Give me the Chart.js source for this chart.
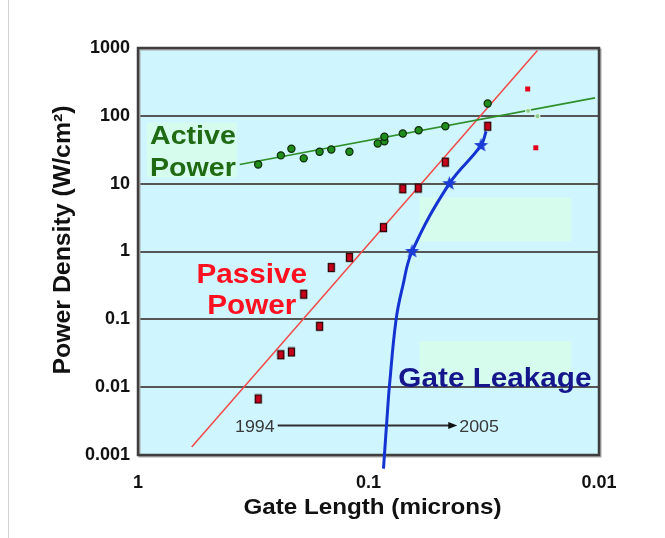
<!DOCTYPE html>
<html>
<head>
<meta charset="utf-8">
<script src="https://cdn.jsdelivr.net/npm/chart.js@4.4.1/dist/chart.umd.min.js"></script>
<style>
  html, body { margin: 0; padding: 0; background: #ffffff; }
  #wrap { width: 665px; height: 538px; position: relative; }
  canvas { display: block; }
</style>
</head>
<body>
<div id="wrap"><canvas id="chart" width="665" height="538" style="width:665px;height:538px"></canvas></div>
<script>
// ---- axis ticks ----
const xTickValues = [1, 0.1, 0.01];
const xTickLabels = ['1', '0.1', '0.01'];
const yTickValues = [0.001, 0.01, 0.1, 1, 10, 100, 1000];
const yTickLabels = ['0.001', '0.01', '0.1', '1', '10', '100', '1000'];

// ---- active power (gate length in microns, W/cm2) ----
const activeLength = [0.301, 0.240, 0.216, 0.191, 0.163, 0.145, 0.121, 0.0912, 0.0853, 0.0853, 0.0710, 0.0606, 0.0464, 0.0304];
const activePower  = [19.2, 26.1, 32.7, 23.6, 29.6, 31.9, 29.6, 39.1, 42.3, 49.1, 54.9, 61.4, 70.3, 151.7];
const activeFitLength = [0.362, 0.0104];
const activeFitPower  = [19.2, 184];

// ---- passive power ----
const passiveLength = [0.301, 0.240, 0.216, 0.191, 0.163, 0.145, 0.121, 0.0861, 0.0710, 0.0608, 0.0464, 0.0304];
const passivePower  = [0.0067, 0.030, 0.033, 0.235, 0.079, 0.58, 0.82, 2.25, 8.4, 8.6, 20.8, 70.3];
const passiveFitLength = [0.585, 0.0185];
const passiveFitPower  = [0.00131, 922];

// ---- projected points ----
const projActiveLength  = [0.0203, 0.0185];
const projActivePower   = [118.5, 98.7];
const projPassiveLength = [0.0204, 0.0188];
const projPassivePower  = [249, 33.8];

// ---- gate leakage ----
const leakageLength = [0.0861, 0.0825, 0.0811, 0.0759, 0.0710, 0.0647, 0.0446, 0.0325, 0.0309];
const leakagePower  = [0.00063, 0.005, 0.0106, 0.1, 0.31, 1, 10, 36.6, 59];
const leakageStarLength = [0.0647, 0.0446, 0.0325];
const leakageStarPower  = [1, 10, 36.6];

const pairs = (xs, ys) => xs.map((x, i) => ({ x: x, y: ys[i] }));

// ---- custom marker images ----
function makeStar(r, color) {
  const c = document.createElement('canvas');
  const s = Math.ceil(r * 2 + 2);
  c.width = s; c.height = s;
  const g = c.getContext('2d');
  g.translate(s / 2, s / 2);
  g.beginPath();
  for (let i = 0; i < 10; i++) {
    const rad = i % 2 === 0 ? r : r * 0.42;
    const a = -Math.PI / 2 + i * Math.PI / 5;
    g.lineTo(rad * Math.cos(a), rad * Math.sin(a));
  }
  g.closePath();
  g.fillStyle = color;
  g.fill();
  return c;
}
function makeBlock(w, h, fill, stroke) {
  const c = document.createElement('canvas');
  c.width = w + 2; c.height = h + 2;
  const g = c.getContext('2d');
  g.fillStyle = fill;
  g.fillRect(1, 1, w, h);
  if (stroke) {
    g.strokeStyle = stroke;
    g.lineWidth = 1.3;
    g.strokeRect(1.5, 1.5, w - 1, h - 1);
  }
  return c;
}
const starImg = makeStar(7.5, '#1a3bd6');
const blockImg = makeBlock(7, 9, '#c8001c', '#2a0505');
const smallBlockImg = makeBlock(5, 5, '#e4001c', null);

// ---- decorations and annotations (data coordinates) ----
const mintBoxes = [
  { x0: 0.914, x1: 0.373, y0: 79.7, y1: 12.4 },
  { x0: 0.0601, x1: 0.0132, y0: 6.29, y1: 1.417 },
  { x0: 0.0601, x1: 0.0132, y0: 0.048, y1: 0.01045 }
];
const seriesLabels = [
  { lines: ['Active', 'Power'], x: 0.887, y: [38.7, 12.9], align: 'left', color: '#1f6a12', size: 26 },
  { lines: ['Passive', 'Power'], x: 0.321, y: [0.338, 0.1197], align: 'center', color: '#ff1020', size: 27 },
  { lines: ['Gate Leakage'], x: 0.0742, y: [0.0102], align: 'left', color: '#16168c', size: 27 }
];
const yearSpan = { from: '1994', to: '2005', x0: 0.2477, x1: 0.0412, y: 0.00272 };

const FONT = '"Liberation Sans", Arial, Helvetica, sans-serif';

function stretchedText(ctx, text, x, y, font, color, align, sx, baseline) {
  ctx.save();
  ctx.translate(x, y);
  ctx.scale(sx, 1);
  ctx.font = font;
  ctx.fillStyle = color;
  ctx.textAlign = align;
  ctx.textBaseline = baseline || 'alphabetic';
  ctx.fillText(text, 0, 0);
  ctx.restore();
}

const decorPlugin = {
  id: 'decor',
  beforeDraw(chart) {
    const { ctx, chartArea: a, scales: { x, y } } = chart;
    ctx.save();
    ctx.fillStyle = '#ffffff';
    ctx.fillRect(0, 0, chart.width, chart.height);
    // page frame
    ctx.strokeStyle = '#d0d0d0';
    ctx.lineWidth = 1;
    ctx.beginPath();
    ctx.moveTo(8.5, 0); ctx.lineTo(8.5, chart.height);
    ctx.stroke();
    // plot background
    ctx.fillStyle = '#cff5fe';
    ctx.fillRect(a.left, a.top, a.right - a.left, a.bottom - a.top);
    ctx.fillStyle = '#d6fcee';
    mintBoxes.forEach(b => {
      const px0 = x.getPixelForValue(b.x0), px1 = x.getPixelForValue(b.x1);
      const py0 = y.getPixelForValue(b.y0), py1 = y.getPixelForValue(b.y1);
      ctx.fillRect(px0, py0, px1 - px0, py1 - py0);
    });
    ctx.restore();
  },
  beforeDatasetsDraw(chart) {
    const { ctx, chartArea: a, scales: { x, y } } = chart;
    ctx.save();
    // plot frame
    ctx.strokeStyle = '#a8a8a8';
    ctx.lineWidth = 2;
    ctx.strokeRect(a.left + 1.5, a.top + 1.5, a.right - a.left, a.bottom - a.top);
    ctx.strokeStyle = '#3e3e3e';
    ctx.lineWidth = 2.5;
    ctx.strokeRect(a.left, a.top, a.right - a.left, a.bottom - a.top);

    // series labels
    seriesLabels.forEach(l => {
      const px = x.getPixelForValue(l.x);
      l.lines.forEach((t, i) => {
        stretchedText(ctx, t, px, y.getPixelForValue(l.y[i]),
          'bold ' + l.size + 'px ' + FONT, l.color, l.align, 1.1);
      });
    });

    // 1994 -> 2005 arrow
    const ax0 = x.getPixelForValue(yearSpan.x0);
    const ax1 = x.getPixelForValue(yearSpan.x1);
    const ay = y.getPixelForValue(yearSpan.y);
    ctx.strokeStyle = '#2e2e2e';
    ctx.lineWidth = 2;
    ctx.beginPath();
    ctx.moveTo(ax0, ay); ctx.lineTo(ax1 - 6, ay);
    ctx.stroke();
    ctx.fillStyle = '#111111';
    ctx.beginPath();
    ctx.moveTo(ax1, ay); ctx.lineTo(ax1 - 9, ay - 3.5); ctx.lineTo(ax1 - 9, ay + 3.5);
    ctx.closePath(); ctx.fill();
    stretchedText(ctx, yearSpan.from, ax0 - 3, ay + 6, '17px ' + FONT, '#3a3a3a', 'right', 1.05);
    stretchedText(ctx, yearSpan.to, ax1 + 2, ay + 6, '17px ' + FONT, '#3a3a3a', 'left', 1.05);
    ctx.restore();
  },
  afterDraw(chart) {
    const { ctx, chartArea: a } = chart;
    ctx.save();
    // axis titles
    stretchedText(ctx, 'Gate Length (microns)', (a.left + a.right) / 2 + 4, 514,
      'bold 22px ' + FONT, '#111111', 'center', 1.1);
    ctx.translate(64, 240);
    ctx.rotate(-Math.PI / 2);
    stretchedText(ctx, 'Power Density (W/cm²)', 0, 0,
      'bold 23px ' + FONT, '#111111', 'center', 1.08, 'middle');
    ctx.restore();
  }
};

const tickFont = { family: FONT, size: 18, weight: 'bold' };

new Chart(document.getElementById('chart').getContext('2d'), {
  type: 'scatter',
  data: {
    datasets: [
      { label: 'Active Power', data: pairs(activeLength, activePower), order: 1,
        pointStyle: 'circle', pointRadius: 3.6, backgroundColor: '#1f8c1c', borderColor: '#0d2a08', borderWidth: 1.2 },
      { label: 'Passive Power', data: pairs(passiveLength, passivePower), order: 1,
        pointStyle: blockImg },
      { label: 'Gate Leakage points', data: pairs(leakageStarLength, leakageStarPower), order: 1,
        pointStyle: starImg },
      { label: 'Active projection', data: pairs(projActiveLength, projActivePower), order: 1,
        pointStyle: 'circle', pointRadius: 2.6, backgroundColor: '#8fcf8f', borderColor: '#e6fff0', borderWidth: 1 },
      { label: 'Passive projection', data: pairs(projPassiveLength, projPassivePower), order: 1,
        pointStyle: smallBlockImg },
      { label: 'Active trend', data: pairs(activeFitLength, activeFitPower), order: 3,
        showLine: true, pointRadius: 0, borderColor: '#2f8f2a', borderWidth: 1.6 },
      { label: 'Passive trend', data: pairs(passiveFitLength, passiveFitPower), order: 3,
        showLine: true, pointRadius: 0, borderColor: '#f24a4a', borderWidth: 1.5 },
      { label: 'Gate Leakage', data: pairs(leakageLength, leakagePower), order: 2,
        showLine: true, pointRadius: 0, borderColor: '#1434d2', borderWidth: 3,
        tension: 0.4, clip: false }
    ]
  },
  options: {
    responsive: false,
    animation: false,
    layout: { padding: { top: 48, right: 66, left: 0, bottom: 0 } },
    plugins: { legend: { display: false }, tooltip: { enabled: false } },
    scales: {
      x: {
        type: 'logarithmic', reverse: true, min: 0.01, max: 1,
        grid: { display: false }, border: { display: false },
        afterBuildTicks: s => { s.ticks = xTickValues.map(v => ({ value: v })); },
        afterFit: s => { s.height = 83; },
        ticks: { callback: (v, i) => xTickLabels[i], font: tickFont, color: '#111111',
                 padding: 9, maxRotation: 0, autoSkip: false }
      },
      y: {
        type: 'logarithmic', min: 0.001, max: 1000,
        grid: { color: '#555555', lineWidth: 2, drawTicks: false }, border: { display: false },
        afterBuildTicks: s => { s.ticks = yTickValues.map(v => ({ value: v })); },
        afterFit: s => { s.width = 138; },
        ticks: { callback: (v, i) => yTickLabels[i], font: tickFont, color: '#111111',
                 padding: 8, autoSkip: false }
      }
    }
  },
  plugins: [decorPlugin]
});
</script>
</body>
</html>
